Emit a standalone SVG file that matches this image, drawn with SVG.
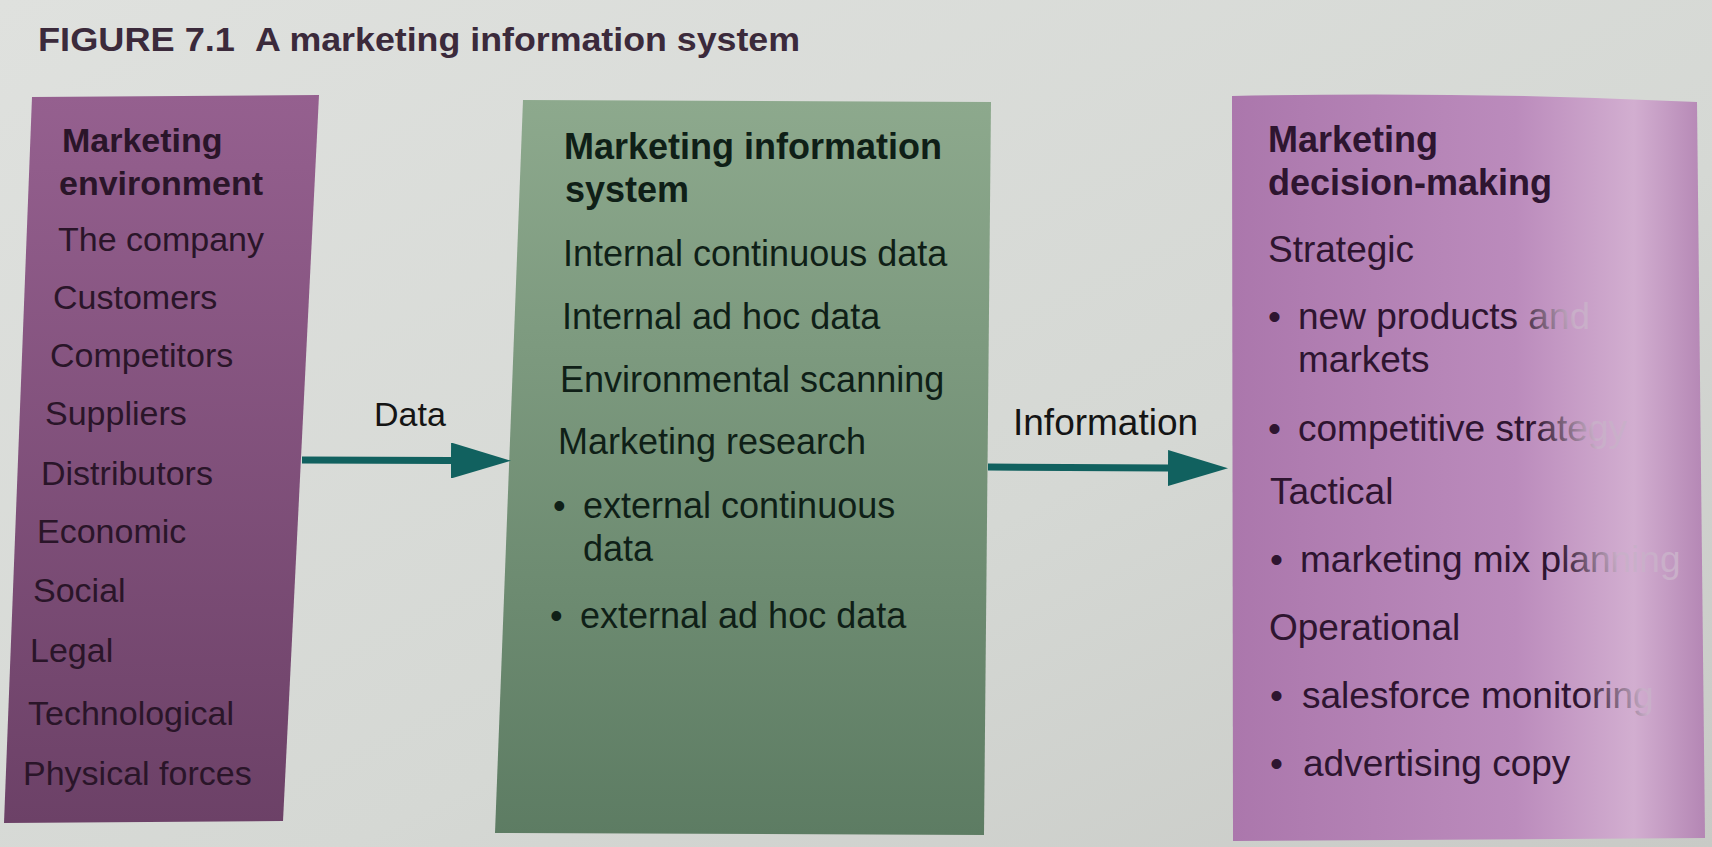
<svg xmlns="http://www.w3.org/2000/svg" width="1712" height="847" viewBox="0 0 1712 847">
  <defs>
    <linearGradient id="bg" x1="0" y1="0" x2="1" y2="1">
      <stop offset="0" stop-color="#dfe1de"/>
      <stop offset="0.6" stop-color="#d5d8d4"/>
      <stop offset="1" stop-color="#c8cac6"/>
    </linearGradient>
    <linearGradient id="envFill" x1="0" y1="0" x2="0" y2="1">
      <stop offset="0" stop-color="#95608f"/>
      <stop offset="1" stop-color="#6c4167"/>
    </linearGradient>
    <linearGradient id="misFill" x1="0" y1="0" x2="0" y2="1">
      <stop offset="0" stop-color="#8da98d"/>
      <stop offset="1" stop-color="#5d7c63"/>
    </linearGradient>
    <linearGradient id="decFill" x1="1232" y1="0" x2="1705" y2="0" gradientUnits="userSpaceOnUse">
      <stop offset="0" stop-color="#ab77ac"/>
      <stop offset="0.6" stop-color="#bb8bbc"/>
      <stop offset="0.85" stop-color="#d2aed0"/>
      <stop offset="1" stop-color="#b486b4"/>
    </linearGradient>
    <linearGradient id="glare" x1="1515" y1="330" x2="1574" y2="319" gradientUnits="userSpaceOnUse">
      <stop offset="0" stop-color="#2e1530"/>
      <stop offset="0.45" stop-color="#735a73"/>
      <stop offset="1" stop-color="#c9afc9"/>
    </linearGradient>
    <marker id="head" viewBox="0 0 60 36" refX="0" refY="18" markerWidth="60" markerHeight="36" markerUnits="userSpaceOnUse" orient="auto">
      <path d="M0,0 L60,18 L0,36 Z" fill="#11615f"/>
    </marker>
    <style>
      text { font-family: "Liberation Sans", Arial, sans-serif; }
      .title { font-size: 34px; font-weight: bold; fill: #3b2a3b; }
      .env { font-size: 34px; fill: #2a1529; }
      .envh { font-size: 34px; font-weight: bold; fill: #2a1529; }
      .mis { font-size: 36px; fill: #0f1f17; }
      .mish { font-size: 36px; font-weight: bold; fill: #0f1f17; }
      .dec { font-size: 37px; fill: #2e1530; }
      .dech { font-size: 36px; font-weight: bold; fill: #2e1530; }
      .fade { fill: url(#glare); }
      .lbl { font-size: 34px; fill: #141414; }
      .conn { stroke: #11615f; stroke-width: 7; fill: none; }
    </style>
  </defs>

  <rect x="0" y="0" width="1712" height="847" fill="url(#bg)"/>

  <g id="title">
    <text class="title" x="38" y="51" textLength="197" lengthAdjust="spacingAndGlyphs">FIGURE 7.1</text>
    <text class="title" x="255" y="51" textLength="545" lengthAdjust="spacingAndGlyphs">A marketing information system</text>
  </g>

  <g id="node-environment">
    <polygon points="32,97 319,95 283,821 4,823" fill="url(#envFill)"/>
    <text class="envh" x="62" y="152">Marketing</text>
    <text class="envh" x="59" y="195">environment</text>
    <text class="env" x="58" y="251">The company</text>
    <text class="env" x="53" y="309">Customers</text>
    <text class="env" x="50" y="367">Competitors</text>
    <text class="env" x="45" y="425">Suppliers</text>
    <text class="env" x="41" y="485">Distributors</text>
    <text class="env" x="37" y="543">Economic</text>
    <text class="env" x="33" y="602">Social</text>
    <text class="env" x="30" y="662">Legal</text>
    <text class="env" x="28" y="725">Technological</text>
    <text class="env" x="23" y="785">Physical forces</text>
  </g>

  <g id="node-mis">
    <polygon points="523,100 991,102 984,835 495,833" fill="url(#misFill)"/>
    <text class="mish" x="564" y="159">Marketing information</text>
    <text class="mish" x="565" y="202">system</text>
    <text class="mis" x="563" y="266">Internal continuous data</text>
    <text class="mis" x="562" y="329">Internal ad hoc data</text>
    <text class="mis" x="560" y="392">Environmental scanning</text>
    <text class="mis" x="558" y="454">Marketing research</text>
    <text class="mis" x="553" y="518">•</text>
    <text class="mis" x="583" y="518">external continuous</text>
    <text class="mis" x="583" y="561">data</text>
    <text class="mis" x="550" y="628">•</text>
    <text class="mis" x="580" y="628">external ad hoc data</text>
  </g>

  <g id="node-decision">
    <path d="M1232,96 Q1460,91 1697,102 L1705,838 L1233,841 Z" fill="url(#decFill)"/>
    <text class="dech" x="1268" y="152">Marketing</text>
    <text class="dech" x="1268" y="195">decision-making</text>
    <text class="dec" x="1268" y="262">Strategic</text>
    <text class="dec" x="1268" y="329">•</text>
    <text class="dec fade" x="1298" y="329">new products and</text>
    <text class="dec" x="1298" y="372">markets</text>
    <text class="dec" x="1268" y="441">•</text>
    <text class="dec fade" x="1298" y="441">competitive strategy</text>
    <text class="dec" x="1270" y="504">Tactical</text>
    <text class="dec" x="1270" y="572">•</text>
    <text class="dec fade" x="1300" y="572">marketing mix planning</text>
    <text class="dec" x="1269" y="640">Operational</text>
    <text class="dec" x="1270" y="708">•</text>
    <text class="dec fade" x="1302" y="708">salesforce monitoring</text>
    <text class="dec" x="1270" y="776">•</text>
    <text class="dec" x="1303" y="776">advertising copy</text>
  </g>

  <g id="connectors">
    <g id="edge-data">
      <line class="conn" x1="302" y1="460" x2="451" y2="460.5" marker-end="url(#head)"/>
      <text class="lbl" x="374" y="426">Data</text>
    </g>
    <g id="edge-information">
      <line class="conn" x1="988" y1="467" x2="1168" y2="468" marker-end="url(#head)"/>
      <text class="lbl" x="1013" y="435" style="font-size:37px">Information</text>
    </g>
  </g>
</svg>
